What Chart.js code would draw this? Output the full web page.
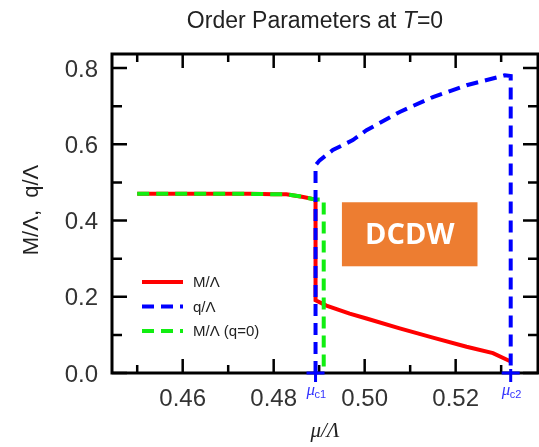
<!DOCTYPE html>
<html>
<head>
<meta charset="utf-8">
<script src="https://cdn.jsdelivr.net/npm/chart.js@4"></script>
<style>
  html, body { margin: 0; padding: 0; background: #fff; }
  #wrap { width: 539px; height: 447px; }
</style>
</head>
<body>
<div id="wrap"><canvas id="chart" width="539" height="447"></canvas></div>
<script>
// values
const muM = [0.450, 0.455, 0.460, 0.465, 0.470, 0.475, 0.480, 0.4828, 0.4865, 0.4892, 0.4892, 0.4916, 0.4967, 0.5004, 0.5077, 0.5150, 0.5224, 0.5282, 0.5321];
const valM = [0.470, 0.470, 0.470, 0.470, 0.470, 0.470, 0.469, 0.469, 0.462, 0.455, 0.191, 0.177, 0.156, 0.143, 0.117, 0.093, 0.069, 0.052, 0.030];

const muQ = [0.4892, 0.4892, 0.4901, 0.4930, 0.4974, 0.5004, 0.5077, 0.5150, 0.5224, 0.5308, 0.5321, 0.5321];
const valQ = [0.000, 0.545, 0.558, 0.585, 0.611, 0.637, 0.685, 0.724, 0.755, 0.781, 0.779, 0.000];

const muM0 = [0.450, 0.455, 0.460, 0.465, 0.470, 0.475, 0.480, 0.4828, 0.4865, 0.4892, 0.4910, 0.4910];
const valM0 = [0.470, 0.470, 0.470, 0.470, 0.470, 0.470, 0.469, 0.469, 0.462, 0.455, 0.455, 0.000];

const xTicks = [0.46, 0.48, 0.50, 0.52];
const xMinor = [0.45, 0.47, 0.49, 0.51, 0.53];
const yTicks = [0.0, 0.2, 0.4, 0.6, 0.8];
const yMinor = [0.1, 0.3, 0.5, 0.7];
const critMu = [0.4892, 0.5321];
const critLabels = ["c1", "c2"];
const legendLabels = ["M/Λ", "q/Λ", "M/Λ (q=0)"];
const boxX = [0.4950, 0.5248];
const boxY = [0.280, 0.448];

function pts(xs, ys) {
  return xs.map((x, i) => ({ x, y: ys[i] }));
}

const frame = {
  id: "frame",
  afterDatasetsDraw(chart) {
    const { ctx, chartArea: a, scales } = chart;
    const xs = scales.x, ys = scales.y;
    ctx.save();

    // DCDW box
    const bx0 = xs.getPixelForValue(boxX[0]), bx1 = xs.getPixelForValue(boxX[1]);
    const by0 = ys.getPixelForValue(boxY[1]), by1 = ys.getPixelForValue(boxY[0]);
    ctx.fillStyle = "#ed7d31";
    ctx.fillRect(bx0, by0, bx1 - bx0, by1 - by0);
    ctx.fillStyle = "#fff";
    ctx.font = "bold 29px 'Open Sans', sans-serif";
    ctx.textAlign = "center";
    ctx.textBaseline = "middle";
    ctx.fillText("DCDW", (bx0 + bx1) / 2, (by0 + by1) / 2 + 1);

    // border
    ctx.strokeStyle = "#000";
    ctx.lineWidth = 3;
    ctx.strokeRect(a.left, a.top, a.right - a.left, a.bottom - a.top);

    // inward ticks
    ctx.lineWidth = 2.5;
    ctx.beginPath();
    const tx = (v, len) => {
      const p = xs.getPixelForValue(v);
      ctx.moveTo(p, a.bottom); ctx.lineTo(p, a.bottom - len);
      ctx.moveTo(p, a.top); ctx.lineTo(p, a.top + len);
    };
    const ty = (v, len) => {
      const p = ys.getPixelForValue(v);
      ctx.moveTo(a.left, p); ctx.lineTo(a.left + len, p);
      ctx.moveTo(a.right, p); ctx.lineTo(a.right - len, p);
    };
    xTicks.forEach((v) => tx(v, 14));
    xMinor.forEach((v) => tx(v, 8));
    yTicks.forEach((v) => ty(v, 15));
    yMinor.forEach((v) => ty(v, 10));
    ctx.stroke();

    // tick labels
    ctx.fillStyle = "#333";
    ctx.font = "24px 'Liberation Sans', Arial, sans-serif";
    ctx.textAlign = "center";
    ctx.textBaseline = "alphabetic";
    xTicks.forEach((v) => ctx.fillText(v.toFixed(2), xs.getPixelForValue(v), 406));
    ctx.textAlign = "right";
    ctx.textBaseline = "middle";
    yTicks.forEach((v) => ctx.fillText(v.toFixed(1), 98, ys.getPixelForValue(v) + 2));

    // critical points
    ctx.strokeStyle = "#0000ff";
    ctx.lineWidth = 3;
    critMu.forEach((m, i) => {
      const p = xs.getPixelForValue(m);
      ctx.beginPath();
      ctx.moveTo(p - 9, a.bottom); ctx.lineTo(p + 9, a.bottom);
      ctx.moveTo(p, a.bottom - 4); ctx.lineTo(p, a.bottom + 9);
      ctx.stroke();
      ctx.fillStyle = "#3333ff";
      ctx.textAlign = "left";
      ctx.textBaseline = "alphabetic";
      ctx.font = "italic 17px 'Liberation Serif', serif";
      ctx.fillText("μ", p - 9, 395);
      ctx.font = "11px 'Liberation Sans', Arial, sans-serif";
      ctx.fillText(critLabels[i], p - 1, 398);
    });

    // legend
    const ds = chart.data.datasets;
    const order = [2, 0, 1];
    ctx.font = "15px 'Liberation Sans', Arial, sans-serif";
    ctx.textBaseline = "middle";
    order.forEach((di, k) => {
      const d = ds[di];
      const y = 282 + k * 24.5;
      ctx.strokeStyle = d.borderColor;
      ctx.lineWidth = 4;
      ctx.setLineDash(d.borderDash || []);
      ctx.beginPath();
      ctx.moveTo(142, y); ctx.lineTo(183, y);
      ctx.stroke();
      ctx.setLineDash([]);
      ctx.fillStyle = "#222";
      ctx.textAlign = "left";
      ctx.fillText(legendLabels[k], 193, y + 1);
    });

    // titles
    ctx.fillStyle = "#222";
    ctx.textBaseline = "alphabetic";
    ctx.font = "23px 'Liberation Sans', Arial, sans-serif";
    const t1 = "Order Parameters at ", t2 = "T", t3 = "=0";
    const w1 = ctx.measureText(t1).width, w3 = ctx.measureText(t3).width;
    ctx.font = "italic 23px 'Liberation Sans', Arial, sans-serif";
    const w2 = ctx.measureText(t2).width;
    let sx = 315 - (w1 + w2 + w3) / 2;
    ctx.textAlign = "left";
    ctx.font = "23px 'Liberation Sans', Arial, sans-serif";
    ctx.fillText(t1, sx, 28);
    ctx.font = "italic 23px 'Liberation Sans', Arial, sans-serif";
    ctx.fillText(t2, sx + w1, 28);
    ctx.font = "23px 'Liberation Sans', Arial, sans-serif";
    ctx.fillText(t3, sx + w1 + w2, 28);

    ctx.textAlign = "center";
    ctx.font = "italic 21px 'Liberation Serif', serif";
    ctx.fillText("μ/Λ", 325, 437);

    ctx.translate(32, 210);
    ctx.rotate(-Math.PI / 2);
    ctx.font = "22px 'Liberation Sans', Arial, sans-serif";
    ctx.textBaseline = "middle";
    ctx.fillText("M/Λ,  q/Λ", 0, 0);
    ctx.restore();
  },
};

new Chart(document.getElementById("chart"), {
  type: "scatter",
  data: {
    datasets: [
      {
        label: "q/Λ",
        data: pts(muQ, valQ),
        borderColor: "#0000ff",
        borderDash: [12, 7],
        order: 0,
      },
      {
        label: "M/Λ (q=0)",
        data: pts(muM0, valM0),
        borderColor: "#11ee11",
        borderDash: [12, 7],
        order: 1,
      },
      {
        label: "M/Λ",
        data: pts(muM, valM),
        borderColor: "#ff0000",
        order: 2,
      },
    ].map((d) => ({ ...d, showLine: true, pointRadius: 0, borderWidth: 4, tension: 0, fill: false })),
  },
  options: {
    responsive: false,
    animation: false,
    layout: { padding: { left: 112, right: 1, top: 54, bottom: 74 } },
    plugins: { legend: { display: false }, tooltip: { enabled: false } },
    scales: {
      x: { type: "linear", min: 0.44446, max: 0.5381, display: false },
      y: { type: "linear", min: 0, max: 0.837, display: false },
    },
  },
  plugins: [frame],
});
</script>
</body>
</html>
